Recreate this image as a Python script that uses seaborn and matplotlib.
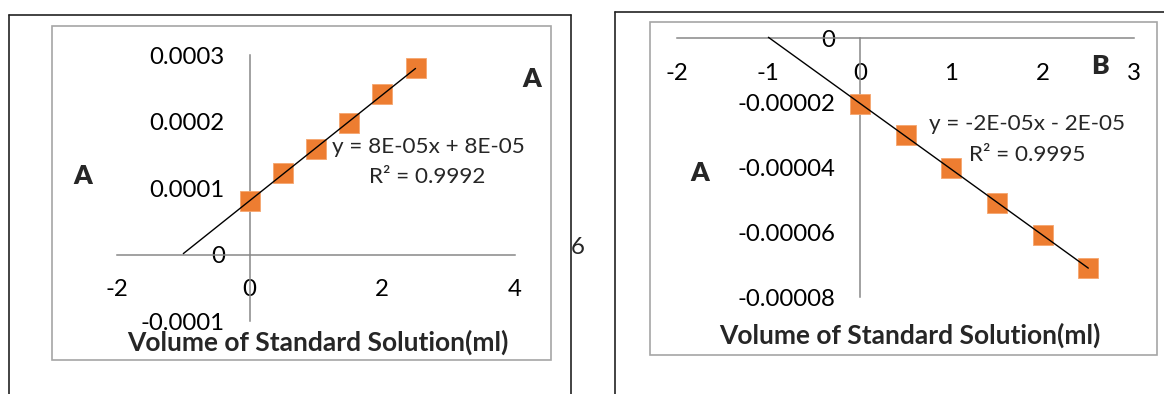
import numpy as np
import pandas as pd
import matplotlib
matplotlib.use("Agg")
import matplotlib.pyplot as plt
from matplotlib.lines import Line2D
from matplotlib.patches import Rectangle
import seaborn as sns

# Calibration data: volume of standard solution added vs. measured response
volume = [0.0, 0.5, 1.0, 1.5, 2.0, 2.5]
signal_a = [0.000081, 0.000123, 0.000159, 0.000197, 0.000241, 0.000281]
signal_b = [-0.0000205, -0.0000300, -0.0000402, -0.0000510, -0.0000609, -0.0000711]

xticks_a = [-2, 0, 2, 4]
xlabels_a = ["-2", "0", "2", "4"]
yticks_a = [-0.0001, 0, 0.0001, 0.0002, 0.0003]
ylabels_a = ["-0.0001", "0", "0.0001", "0.0002", "0.0003"]

xticks_b = [-2, -1, 0, 1, 2, 3]
xlabels_b = ["-2", "-1", "0", "1", "2", "3"]
yticks_b = [-0.00008, -0.00006, -0.00004, -0.00002, 0]
ylabels_b = ["-0.00008", "-0.00006", "-0.00004", "-0.00002", "0"]

eq_a = "y = 8E-05x + 8E-05"
r2_a = "R² = 0.9992"
eq_b = "y = -2E-05x - 2E-05"
r2_b = "R² = 0.9995"
xtitle = "Volume of Standard Solution(ml)"
trend_start = -1.0

W, H = 1164, 394
sns.set_theme(style="white")
plt.rcParams["font.family"] = ["Lato", "DejaVu Sans"]

fig = plt.figure(figsize=(W / 100, H / 100), dpi=100)
fig.patch.set_facecolor("white")

ORANGE = "#ED7D31"
GRAY = "#878787"
TICK_FS = 17.3


def fx(px):
    return px / W


def fy(py):
    return 1 - py / H


def place(ax, x0, x1, ytop, ybot):
    ax.set_position([fx(x0), fy(ybot), (x1 - x0) / W, (ybot - ytop) / H])


def style_axes(ax):
    ax.set_facecolor("none")
    for s in ("top", "right"):
        ax.spines[s].set_visible(False)
    for s in ("left", "bottom"):
        ax.spines[s].set_position(("data", 0))
        ax.spines[s].set_color(GRAY)
        ax.spines[s].set_linewidth(1.1)
    ax.spines["left"].set_bounds(*ax.get_ylim())
    ax.spines["bottom"].set_bounds(*ax.get_xlim())
    ax.tick_params(axis="both", direction="out", length=5.8, width=1.1,
                   color=GRAY, labelsize=TICK_FS, pad=12, labelcolor="black")
    ax.grid(False)


def draw_series(ax, x, y):
    df = pd.DataFrame({"volume": x, "signal": y})
    slope, intercept = np.polyfit(df["volume"], df["signal"], 1)
    xs = np.array([trend_start, max(x)])
    fit = pd.DataFrame({"volume": xs, "signal": slope * xs + intercept})
    sns.scatterplot(data=df, x="volume", y="signal", ax=ax, marker="s", s=205,
                    color=ORANGE, edgecolor="#F5A66F", linewidth=0.6,
                    zorder=3, clip_on=False)
    sns.lineplot(data=fit, x="volume", y="signal", ax=ax, color="black",
                 linewidth=1.0, zorder=4, clip_on=False)
    ax.set_xlabel("")
    ax.set_ylabel("")


# ---- left chart ----
axA = fig.add_axes([0, 0, 1, 1])
place(axA, 117, 515, 55, 321)
draw_series(axA, volume, signal_a)
axA.set_xlim(-2, 4)
axA.set_ylim(-0.0001, 0.0003)
axA.set_xticks(xticks_a, xlabels_a)
axA.set_yticks(yticks_a, ylabels_a)
style_axes(axA)

# ---- right chart ----
axB = fig.add_axes([0, 0, 1, 1])
place(axB, 677, 1134, 38, 297)
draw_series(axB, volume, signal_b)
axB.set_xlim(-2, 3)
axB.set_ylim(-0.00008, 0)
axB.set_xticks(xticks_b, xlabels_b)
axB.set_yticks(yticks_b, ylabels_b)
style_axes(axB)

# chart-area borders
for (x0, y0, x1, y1) in [(52, 26, 551, 360), (650, 22, 1157, 355)]:
    fig.add_artist(Rectangle((fx(x0), fy(y1)), (x1 - x0) / W, (y1 - y0) / H,
                             transform=fig.transFigure, fill=False,
                             edgecolor="#A6A6A6", linewidth=1.2, zorder=0))

# outer frame lines
frame = [((9, 15), (9, 394)), ((9, 15), (571, 15)), ((571, 15), (571, 394)),
         ((615, 12), (615, 394)), ((615, 12), (1164, 12))]
for (a, b) in frame:
    fig.add_artist(Line2D([fx(a[0]), fx(b[0])], [fy(a[1]), fy(b[1])],
                          transform=fig.transFigure, color="#222222",
                          linewidth=1.2))


# texts
def ftext(px, py, s, **kw):
    fig.text(fx(px), fy(py), s, ha="center", va="center", **kw)


ftext(428, 147, eq_a, fontsize=16.2)
ftext(427, 177, r2_a, fontsize=16.2)
ftext(1027, 124, eq_b, fontsize=16.2)
ftext(1027, 155, r2_b, fontsize=16.2)
for (px, py, s) in [(83, 176, "A"), (532, 79, "A"), (700, 173, "A"), (1100, 66, "B")]:
    ftext(px, py, s, fontsize=19, fontweight="heavy")
ftext(318, 342, xtitle, fontsize=19, fontweight="bold")
ftext(910, 335, xtitle, fontsize=19, fontweight="bold")
ftext(578, 247, "6", fontsize=TICK_FS)

fig.savefig("out.png", dpi=100, facecolor="white")
